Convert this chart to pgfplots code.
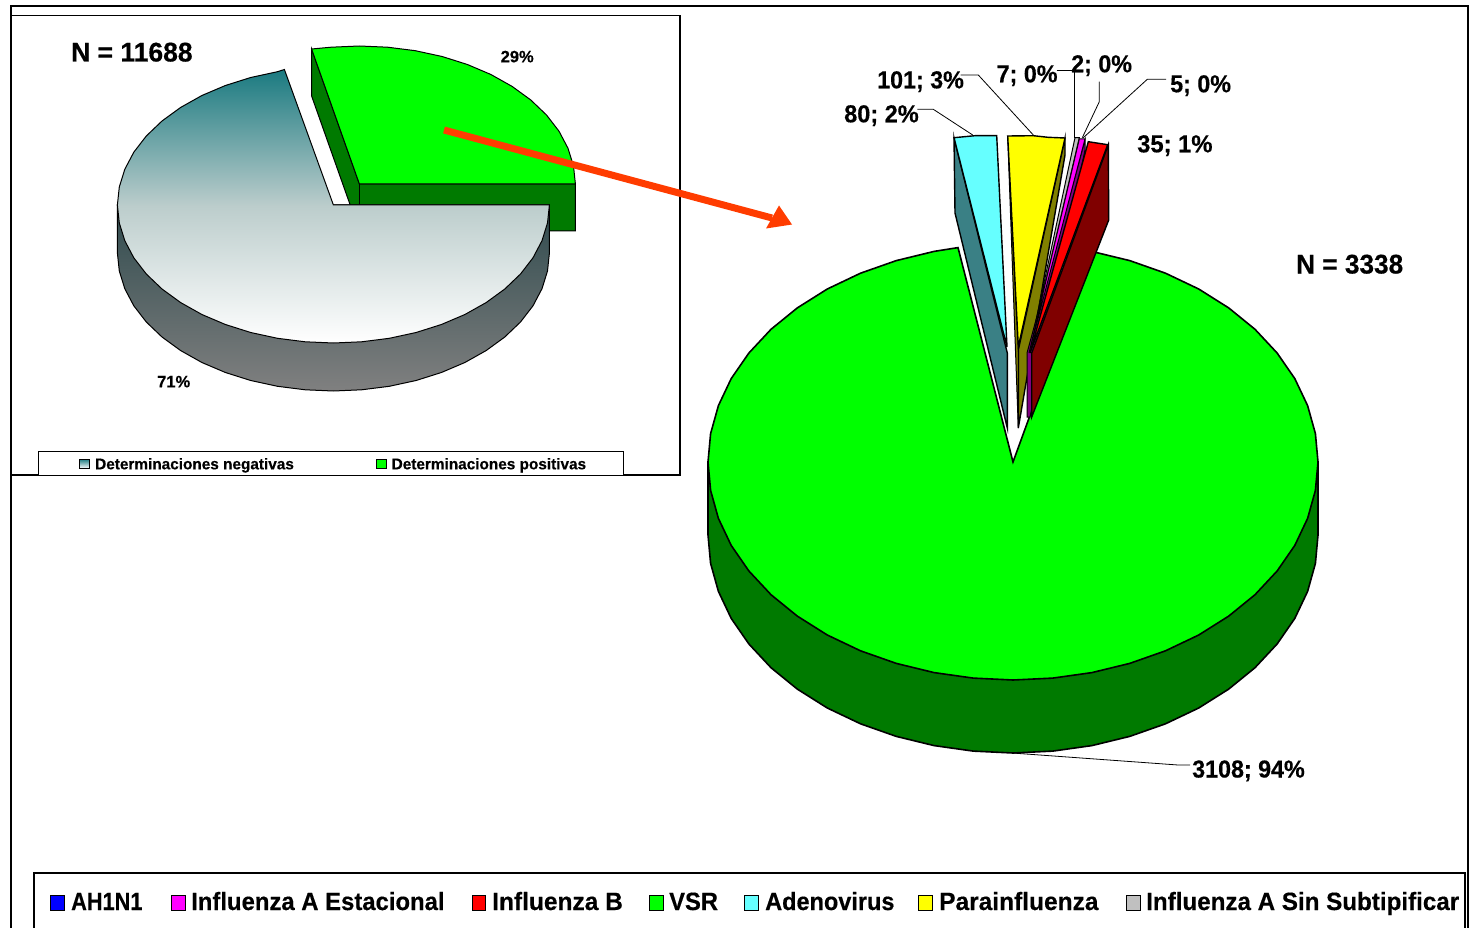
\documentclass[border=0pt]{standalone}
\usepackage{pgfplots}
\pgfplotsset{compat=1.18}
\usepackage{fontspec}
\setmainfont[BoldFeatures={FakeBold=0.4}]{Liberation Sans}
\definecolor{pieteal}{RGB}{26,122,128}
\definecolor{piemid}{RGB}{188,205,204}
\definecolor{sidedark}{RGB}{47,74,77}
\definecolor{sidegrey}{RGB}{128,128,128}
\definecolor{dkgreen}{RGB}{0,122,0}
\definecolor{vsrgreen}{RGB}{0,255,0}
\definecolor{arrowred}{RGB}{255,60,0}
\definecolor{tealside}{RGB}{58,128,133}
\definecolor{cyanpie}{RGB}{102,255,255}
\definecolor{greypie}{RGB}{192,192,192}
\definecolor{magpie}{RGB}{255,0,255}
\definecolor{purplepie}{RGB}{128,0,128}
\definecolor{yellowpie}{RGB}{255,255,0}
\definecolor{olivepie}{RGB}{128,128,0}
\definecolor{redpie}{RGB}{255,0,0}
\definecolor{darkredpie}{RGB}{128,0,0}
\definecolor{bluepie}{RGB}{0,0,255}
% x, baseline y, font size, horizontal squeeze, text
\newcommand{\lbl}[5]{\node[anchor=base west,inner sep=0pt,font=\fontsize{#3}{#3}\selectfont\bfseries] at (axis cs:#1,#2) {\scalebox{#4}[1]{#5}};}
\newcommand{\swatch}[5]{\addplot[fill=#1,draw=black,line width=1pt] coordinates {(#2,#4)(#3,#4)(#3,#5)(#2,#5)} --cycle;}
\newcommand{\leader}[1]{\addplot[black,line width=0.8pt] coordinates {#1};}
\begin{document}
\begin{tikzpicture}
\begin{axis}[
  scale only axis, width=1470pt, height=928pt,
  xmin=0, xmax=1470, ymin=0, ymax=928, y dir=reverse,
  axis lines=none, no markers,
]
% frames
\addplot[black,line width=1.2pt] coordinates {(11,928)(11,6)(1468,6)(1468,928)};
\addplot[fill=white,draw=black,line width=1.2pt] coordinates {(11,15.5)(680,15.5)(680,475)(11,475)} --cycle;
\addplot[fill=white,draw=black,line width=1pt] coordinates {(38,475)(38,451.7)(623.7,451.7)(623.7,475)};
\addplot[black,line width=1.2pt] coordinates {(34,928)(34,873)(1465,873)(1465,928)};

% left pie: positives (exploded)
\addplot[fill=dkgreen,draw=black,line width=1pt] coordinates {(311.6,49)(311.6,96)(359.4,231)(575.4,231)(575.4,184)(359.4,184)} --cycle;
\addplot[black,line width=1pt] coordinates {(359.4,184)(359.4,231)};
\addplot[fill=vsrgreen,draw=black,line width=1pt] coordinates {
 (311.6,49)(331.2,47.2)(359.4,46)(387.6,47.2)(415.3,50.7)(442.1,56.5)(467.4,64.5)(490.9,74.5)
 (512.1,86.4)(530.8,100)(546.5,115)(559,131.2)(568,148.3)(573.5,166)(575.4,184)(359.4,184)} --cycle;

% left pie: negatives
\addplot[top color=sidedark,bottom color=sidegrey,draw=black,line width=1pt] coordinates {
 (117.4,205)(117.4,253)(119.3,271)(124.8,288.7)(133.8,305.8)(146.3,322)(162,337)(180.7,350.6)
 (201.9,362.5)(225.4,372.5)(250.7,380.5)(277.5,386.3)(305.2,389.8)(333.4,391)(361.6,389.8)
 (389.3,386.3)(416.1,380.5)(441.4,372.5)(464.9,362.5)(486.1,350.6)(504.8,337)(520.5,322)
 (533,305.8)(542,288.7)(547.5,271)(549.4,253)(549.4,205)} --cycle;
\addplot[top color=pieteal,bottom color=white,middle color=piemid,draw=black,line width=1pt] coordinates {
 (549.4,205)(547.5,223)(542,240.7)(533,257.8)(520.5,274)(504.8,289)(486.1,302.6)(464.9,314.5)
 (441.4,324.5)(416.1,332.5)(389.3,338.3)(361.6,341.8)(333.4,343)(305.2,341.8)(277.5,338.3)
 (250.7,332.5)(225.4,324.5)(201.9,314.5)(180.7,302.6)(162,289)(146.3,274)(133.8,257.8)
 (124.8,240.7)(119.3,223)(117.4,205)(119.3,187)(124.8,169.3)(133.8,152.2)(146.3,136)(162,121)
 (180.7,107.4)(201.9,95.5)(225.4,85.5)(250.7,77.5)(277.5,71.7)(284.4,69.5)(333.4,205)} --cycle;

% right pie: VSR
\addplot[fill=dkgreen,draw=black,line width=1.6pt] coordinates {
 (708,462)(708,535)(710.6,563.4)(718.4,591.4)(731.2,618.4)(748.9,644)(771,667.7)(797.3,689.1)
 (827.3,708)(860.5,723.8)(896.3,736.4)(934.1,745.6)(973.2,751.1)(1013,753)(1052.8,751.1)
 (1091.9,745.6)(1129.7,736.4)(1165.5,723.8)(1198.7,708)(1228.7,689.1)(1255,667.7)(1277.1,644)
 (1294.8,618.4)(1307.6,591.4)(1315.4,563.4)(1318,535)(1318,462)} --cycle;
\addplot[fill=vsrgreen,draw=black,line width=1.6pt] coordinates {
 (1090,251)(1129.7,260.6)(1165.5,273.2)(1198.7,289)(1228.7,307.9)(1255,329.3)(1277.1,353)
 (1294.8,378.6)(1307.6,405.6)(1315.4,433.6)(1318,462)(1315.4,490.4)(1307.6,518.4)(1294.8,545.4)
 (1277.1,571)(1255,594.7)(1228.7,616.1)(1198.7,635)(1165.5,650.8)(1129.7,663.4)(1091.9,672.6)
 (1052.8,678.1)(1013,680)(973.2,678.1)(934.1,672.6)(896.3,663.4)(860.5,650.8)(827.3,635)
 (797.3,616.1)(771,594.7)(748.9,571)(731.2,545.4)(718.4,518.4)(710.6,490.4)(708,462)(710.6,433.6)
 (718.4,405.6)(731.2,378.6)(748.9,353)(771,329.3)(797.3,307.9)(827.3,289)(860.5,273.2)
 (896.3,260.6)(934.1,251.4)(958,247.6)(1013,462)} --cycle;

% adenovirus
\addplot[fill=tealside,draw=black,line width=1.4pt] coordinates {(954,137.7)(955,213)(1007.3,428)(1007.3,353)} --cycle;
\addplot[fill=cyanpie,draw=black,line width=1.4pt] coordinates {(954,137.7)(975,135.7)(996.7,135.7)(1007,347)} --cycle;
% parainfluenza
\addplot[fill=olivepie,draw=black,line width=1.4pt] coordinates {(1065,138)(1065,155)(1018.3,428)(1018.3,350)} --cycle;
\addplot[fill=olivepie,draw=black,line width=1pt] coordinates {(1007.7,136)(1018.3,428)(1018.3,346.7)} --cycle;
\addplot[fill=yellowpie,draw=black,line width=1.4pt] coordinates {(1007.7,136)(1033.3,135.7)(1048,137.3)(1065,138)(1018.3,346.7)} --cycle;
% sin subtipificar, estacional
\addplot[fill=greypie,draw=black,line width=1pt] coordinates {(1075,137.7)(1079.3,137.7)(1029,353)} --cycle;
\addplot[fill=purplepie,draw=black,line width=1pt] coordinates {(1085,140)(1085,150)(1030,417)(1027,417)(1027,353)} --cycle;
\addplot[fill=magpie,draw=black,line width=1pt] coordinates {(1079.3,139)(1085,139)(1029,353)} --cycle;
% influenza B
\addplot[fill=darkredpie,draw=black,line width=1.4pt] coordinates {(1108.3,144.7)(1108.7,220)(1031.7,417)(1031.7,353)} --cycle;
\addplot[fill=redpie,draw=black,line width=1.4pt] coordinates {(1088.3,141.7)(1107.7,144.7)(1030,353)} --cycle;

% arrow between pies
\addplot[arrowred,line width=7pt] coordinates {(444,130)(772,218)};
\addplot[fill=arrowred,draw=none] coordinates {(792,224.5)(766,228.5)(779,205.5)} --cycle;

% leader lines
\leader{(917.3,109.3)(933.3,109.3)(972.7,135)}
\leader{(960.7,75)(978.3,75)(1033.3,135)}
\leader{(1056.7,70)(1074.3,70)(1074.3,137.7)}
\leader{(1099.3,81.7)(1099.3,101.7)(1082.3,137.7)}
\leader{(1166,79.3)(1147.3,79.3)(1083.3,137.7)}
\leader{(1012,753)(1178,765)(1190,765)}

% inner legend swatches
\addplot[top color=pieteal,bottom color=white,draw=black,line width=1pt] coordinates {(79.5,459)(89.3,459)(89.3,468.3)(79.5,468.3)} --cycle;
\swatch{vsrgreen}{376.3}{386.5}{459}{468.3}
% bottom legend swatches
\swatch{bluepie}{50}{64}{895}{910}
\swatch{magpie}{171}{185}{895}{910}
\swatch{redpie}{472}{485}{895}{910}
\swatch{vsrgreen}{649}{663}{895}{910}
\swatch{cyanpie}{744}{758}{895}{910}
\swatch{yellowpie}{918}{932}{895}{910}
\swatch{greypie}{1126}{1140}{895}{910}

% text
\lbl{71}{61.5}{27}{0.98}{N = 11688}
\lbl{1296}{273.5}{27}{0.97}{N = 3338}
\lbl{500.5}{62.3}{16.5}{1}{29\%}
\lbl{157}{387.3}{16.5}{1}{71\%}
\lbl{95}{469.3}{15.5}{0.99}{Determinaciones negativas}
\lbl{391.5}{469.3}{15.5}{0.99}{Determinaciones positivas}
\lbl{844}{122.3}{24.5}{0.96}{80; 2\%}
\lbl{877}{88.3}{24.5}{0.95}{101; 3\%}
\lbl{996.5}{82.3}{24.5}{0.95}{7; 0\%}
\lbl{1071}{72.3}{24.5}{0.95}{2; 0\%}
\lbl{1170}{92.3}{24.5}{0.95}{5; 0\%}
\lbl{1137}{152.3}{24.5}{0.97}{35; 1\%}
\lbl{1192}{777.5}{24.5}{0.95}{3108; 94\%}
\lbl{71}{910}{25}{0.87}{AH1N1}
\lbl{191}{910}{25}{0.955}{Influenza A Estacional}
\lbl{492}{910}{25}{0.98}{Influenza B}
\lbl{669}{910}{25}{0.95}{VSR}
\lbl{765}{910}{25}{0.94}{Adenovirus}
\lbl{939}{910}{25}{0.98}{Parainfluenza}
\lbl{1146}{910}{25}{0.967}{Influenza A Sin Subtipificar}
\end{axis}
\path (current axis.south west) rectangle (current axis.north east);
\end{tikzpicture}
\end{document}
